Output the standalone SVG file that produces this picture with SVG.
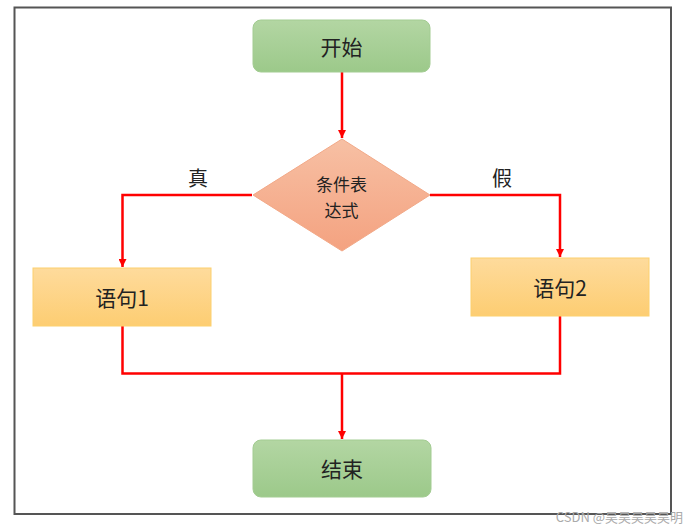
<svg xmlns="http://www.w3.org/2000/svg" width="689" height="526" viewBox="0 0 689 526">
<defs>
<linearGradient id="gGreen" x1="0" y1="0" x2="0" y2="1"><stop offset="0" stop-color="#b3d6a3"/><stop offset="1" stop-color="#9cc98a"/></linearGradient>
<linearGradient id="gOrange" x1="0" y1="0" x2="0" y2="1"><stop offset="0" stop-color="#f7c0a4"/><stop offset="1" stop-color="#f4a280"/></linearGradient>
<linearGradient id="gYellow" x1="0" y1="0" x2="0" y2="1"><stop offset="0" stop-color="#fedb9c"/><stop offset="1" stop-color="#fdcd72"/></linearGradient>
<marker id="arr" viewBox="0 0 10 10" refX="10" refY="5" markerWidth="8" markerHeight="8" markerUnits="userSpaceOnUse" orient="auto"><path d="M0,0 L10,5 L0,10 z" fill="#ff0000"/></marker>
<style>
.lbl{font-family:"Noto Sans CJK SC","Noto Sans",sans-serif;fill:#222;text-anchor:middle;dominant-baseline:central}
.conn{fill:none;stroke:#ff0000;stroke-width:2.5}
.green{fill:url(#gGreen);stroke:#a3cc92;stroke-width:1}
.yellow{fill:url(#gYellow);stroke:#fcd06e;stroke-width:1}
</style>
</defs>
<rect x="0" y="0" width="689" height="526" fill="#ffffff"/>
<rect x="14.5" y="7.5" width="656.5" height="506.5" fill="none" stroke="#555" stroke-width="2"/>
<g id="connectors">
<path class="conn" d="M342,72 V138" marker-end="url(#arr)"/>
<path class="conn" d="M252,195 H122.5 V267" marker-end="url(#arr)"/>
<path class="conn" d="M430,195 H560 V257" marker-end="url(#arr)"/>
<path class="conn" d="M122.5,326 V373.5 H560 V316"/>
<path class="conn" d="M342,373.5 V439" marker-end="url(#arr)"/>
</g>
<g id="start"><rect class="green" x="253" y="20" width="177" height="52" rx="8"/><text class="lbl" x="341.5" y="46" font-size="21">开始</text></g>
<g id="cond"><polygon points="342,139 430,195 342,251 253,195" fill="url(#gOrange)" stroke="#f2a988" stroke-width="1"/><text class="lbl" x="341.5" y="183" font-size="17">条件表</text><text class="lbl" x="341.5" y="209" font-size="17">达式</text></g>
<g id="stmt1"><rect class="yellow" x="33" y="268" width="178" height="58"/><text class="lbl" x="122" y="297" font-size="21">语句1</text></g>
<g id="stmt2"><rect class="yellow" x="471" y="258" width="178" height="58"/><text class="lbl" x="560" y="287" font-size="21">语句2</text></g>
<g id="end"><rect class="green" x="253" y="440" width="178" height="57" rx="8"/><text class="lbl" x="342" y="468" font-size="21">结束</text></g>
<g id="labels"><text class="lbl" x="198" y="177" font-size="20">真</text><text class="lbl" x="502" y="177" font-size="20">假</text></g>
<text x="683" y="516" font-family="'Noto Sans CJK SC','Noto Sans',sans-serif" font-size="13" fill="#aaaaaa" text-anchor="end" dominant-baseline="central">CSDN @昊昊昊昊昊明</text>
</svg>
